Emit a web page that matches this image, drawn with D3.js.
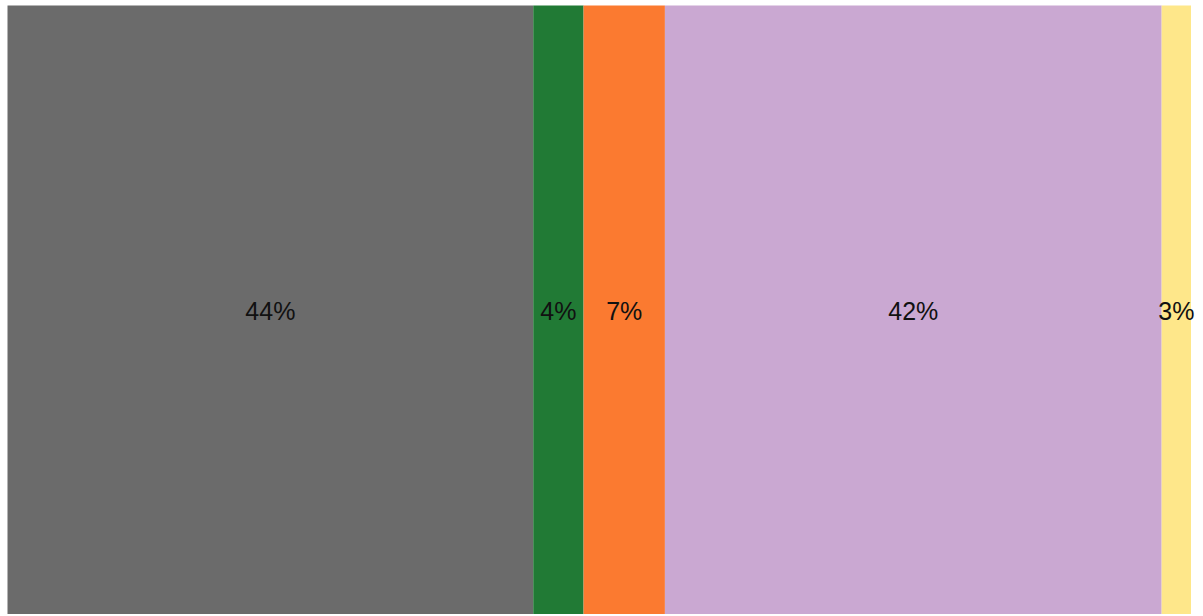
<!DOCTYPE html>
<html><head><meta charset="utf-8">
<script src="https://cdn.jsdelivr.net/npm/d3@7"></script>
<style>body{margin:0;background:#fff;} svg{display:block;}</style>
</head><body>
<svg id="chart" width="1203" height="616"></svg>
<script>
const categories = ["A", "B", "C", "D", "E"];
const values = [44.4, 4.25, 6.87, 41.95, 2.48];
const labels = ["44%", "4%", "7%", "42%", "3%"];
const colors = ["#6b6b6b", "#217a35", "#fb7a30", "#caa8d2", "#fee78a"];

const svg = d3.select("#chart");
const margin = {left: 7.5, right: 12, top: 5.5, bottom: 2};
const W = 1203, H = 616;
const total = d3.sum(values);
const x = d3.scaleLinear().domain([0, total]).range([margin.left, W - margin.right]);
const y = d3.scaleLinear().domain([0, 1]).range([H - margin.bottom, margin.top]);
let cum = 0;
const data = values.map((v, i) => { const d = {cat: categories[i], v, start: cum, label: labels[i], color: colors[i]}; cum += v; return d; });

svg.selectAll("rect").data(data).join("rect")
  .attr("x", d => x(d.start))
  .attr("width", d => x(d.start + d.v) - x(d.start))
  .attr("y", y(1))
  .attr("height", y(0) - y(1))
  .attr("fill", d => d.color);

svg.selectAll("text.lbl").data(data).join("text")
  .attr("class", "lbl")
  .attr("x", d => (x(d.start) + x(d.start + d.v)) / 2)
  .attr("y", y(0.5) + 1)
  .attr("text-anchor", "middle")
  .attr("dominant-baseline", "central")
  .style("font-family", "Liberation Sans, Arial, sans-serif")
  .style("font-size", "25px")
  .attr("fill", "#111")
  .text(d => d.label);
</script>
</body></html>
